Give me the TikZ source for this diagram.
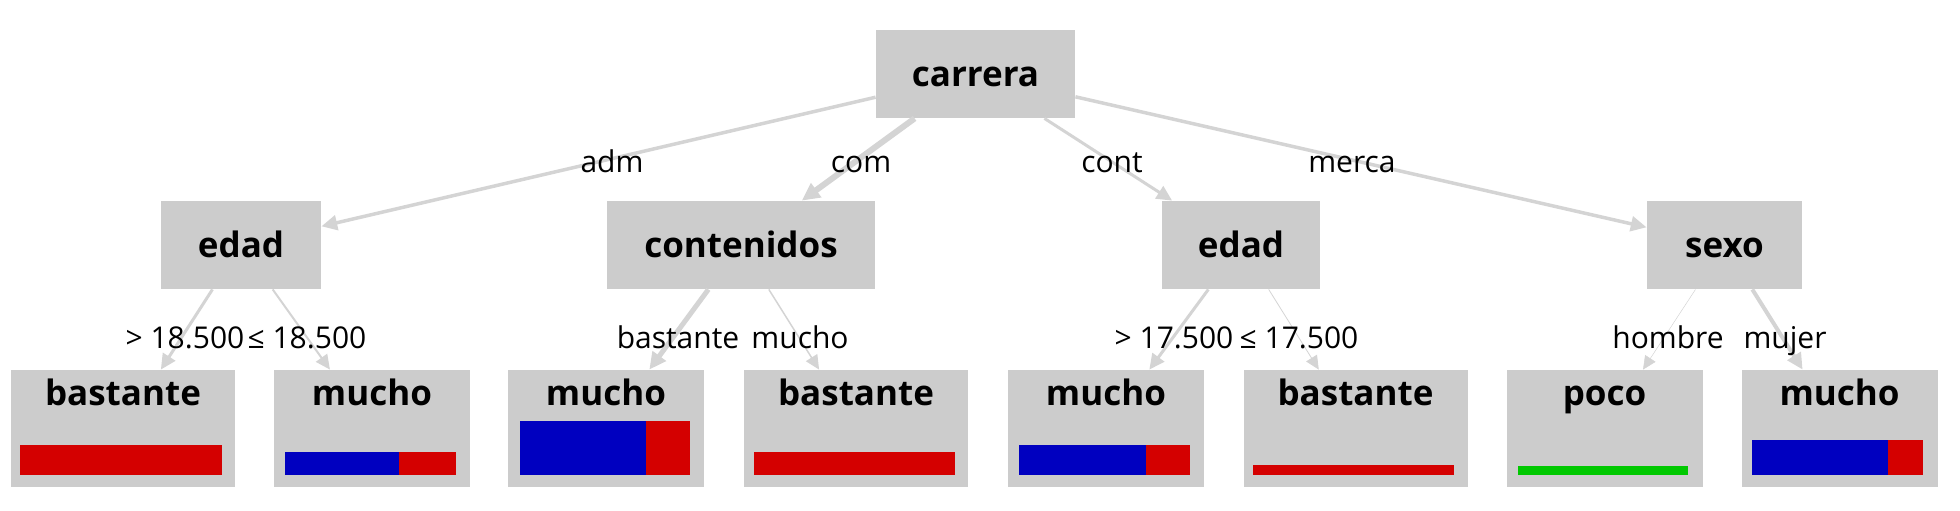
\documentclass[tikz,border=0pt]{standalone}
\usepackage{fontspec}
\setmainfont{Open Sans}
\usetikzlibrary{arrows.meta, positioning}

\definecolor{boxgray}{HTML}{CCCCCC}
\definecolor{edgegray}{HTML}{D4D4D4}
\definecolor{barblue}{HTML}{0000C0}
\definecolor{barred}{HTML}{D40000}
\definecolor{bargreen}{HTML}{00C800}

\tikzset{
  split/.style={fill=boxgray, minimum height=44pt, inner sep=0pt, text height=14pt, text depth=2pt,
    font=\fontsize{17.5}{20}\selectfont\bfseries},
  leaf/.style={fill=boxgray, minimum height=58.5pt, inner sep=0pt},
  leaftitle/.style={anchor=base, inner sep=0pt, font=\fontsize{17.5}{20}\selectfont\bfseries},
  cond/.style={anchor=base, inner sep=0pt, font=\fontsize{15}{18}\selectfont},
  branch/.style={draw=edgegray, line width=#1, -{Triangle[length=6.5pt 0.8, width=6pt 0.8]}},
}

\begin{document}
\begin{tikzpicture}[x=0.5pt, y=-0.5pt]
  \useasboundingbox (0,0) rectangle (1960,510);

  % split nodes
  \node (carrera) [split, minimum width=99.5pt] at (975.5,74) {carrera};
  \node (edadA) [split, minimum width=80pt] at (241,245) {edad};
  \node (contenidos) [split, minimum width=134pt] at (741,245) {contenidos};
  \node (edadB) [split, minimum width=79pt] at (1241,245) {edad};
  \node (sexo) [split, minimum width=77.5pt] at (1724.5,245) {sexo};

  % leaves
  \node (admHi) [leaf, minimum width=112pt] at (123,428.5) {};
  \node (admLo) [leaf, minimum width=98pt] at (372,428.5) {};
  \node (comBas) [leaf, minimum width=98pt] at (606,428.5) {};
  \node (comMuc) [leaf, minimum width=112pt] at (856,428.5) {};
  \node (contHi) [leaf, minimum width=98pt] at (1106,428.5) {};
  \node (contLo) [leaf, minimum width=112pt] at (1355.5,428.5) {};
  \node (mercaH) [leaf, minimum width=98pt] at (1604.5,428.5) {};
  \node (mercaM) [leaf, minimum width=98pt] at (1839.5,428.5) {};

  \node (admHiT) [leaftitle] at (123,405) {bastante};
  \node (admLoT) [leaftitle] at (372,405) {mucho};
  \node (comBasT) [leaftitle] at (606,405) {mucho};
  \node (comMucT) [leaftitle] at (856,405) {bastante};
  \node (contHiT) [leaftitle] at (1106,405) {mucho};
  \node (contLoT) [leaftitle] at (1355.5,405) {bastante};
  \node (mercaHT) [leaftitle] at (1604.5,405) {poco};
  \node (mercaMT) [leaftitle] at (1839.5,405) {mucho};

  % class bars
  \fill[barred] (20,445) rectangle (222,475);
  \fill[barblue] (285,452) rectangle (399,475);
  \fill[barred] (399,452) rectangle (456,475);
  \fill[barblue] (520,421) rectangle (646,475);
  \fill[barred] (646,421) rectangle (690,475);
  \fill[barred] (754,452) rectangle (955,475);
  \fill[barblue] (1019,445) rectangle (1146,475);
  \fill[barred] (1146,445) rectangle (1190,475);
  \fill[barred] (1253,465) rectangle (1454,475);
  \fill[bargreen] (1518,466) rectangle (1688,475);
  \fill[barblue] (1752,440) rectangle (1888,475);
  \fill[barred] (1888,440) rectangle (1923,475);

  % branches
  \draw[branch=1.75pt] (carrera) -- (edadA);
  \draw[branch=3pt] (carrera) -- (contenidos);
  \draw[branch=1.5pt] (carrera) -- (edadB);
  \draw[branch=1.75pt] (carrera) -- (sexo);
  \draw[branch=1.5pt] (edadA) -- (admHi);
  \draw[branch=1pt] (edadA) -- (admLo);
  \draw[branch=2.5pt] (contenidos) -- (comBas);
  \draw[branch=0.75pt] (contenidos) -- (comMuc);
  \draw[branch=1.5pt] (edadB) -- (contHi);
  \draw[branch=0.4pt] (edadB) -- (contLo);
  \draw[branch=0.25pt] (sexo) -- (mercaH);
  \draw[branch=2pt] (sexo) -- (mercaM);

  % branch labels
  \node (lAdm) [cond] at (612,172) {adm};
  \node (lCom) [cond] at (861,172) {com};
  \node (lCont) [cond] at (1112,172) {cont};
  \node (lMerca) [cond] at (1352,172) {merca};
  \node (lAdmHi) [cond] at (185,348) {> 18.500};
  \node (lAdmLo) [cond] at (307,348) {≤ 18.500};
  \node (lComB) [cond] at (678,348) {bastante};
  \node (lComM) [cond] at (800,348) {mucho};
  \node (lContHi) [cond] at (1174,348) {> 17.500};
  \node (lContLo) [cond] at (1299,348) {≤ 17.500};
  \node (lHombre) [cond] at (1668,348) {hombre};
  \node (lMujer) [cond] at (1785,348) {mujer};
\end{tikzpicture}
\end{document}
